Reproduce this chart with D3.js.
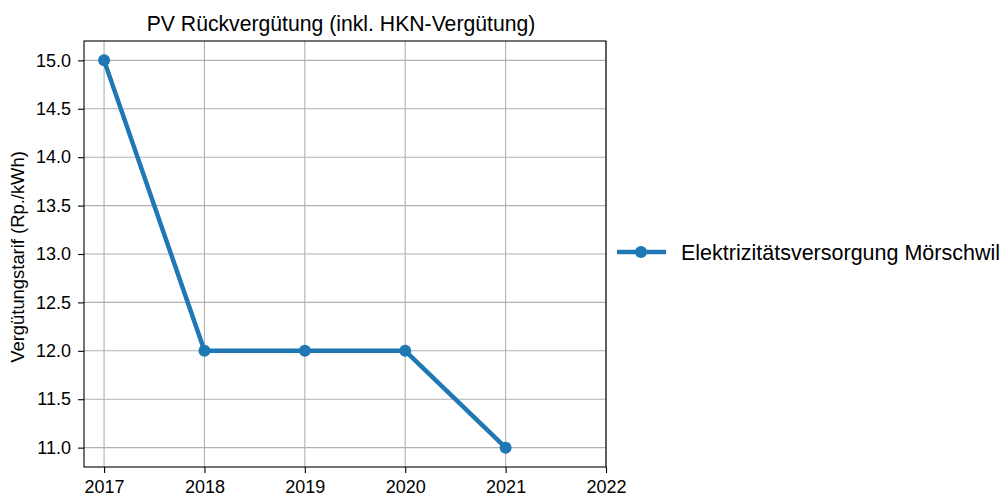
<!DOCTYPE html>
<html>
<head>
<meta charset="utf-8">
<script src="https://cdn.jsdelivr.net/npm/d3@7"></script>
<style>
  body { margin: 0; background: #fff; }
  text { font-family: "Liberation Sans", Arial, sans-serif; fill: #000; }
</style>
</head>
<body>
<svg width="1006" height="496"></svg>
<script>
// data
var years = [2017, 2018, 2019, 2020, 2021];
var tariff = [15.0, 12.0, 12.0, 12.0, 11.0];
var xTicks = [2017, 2018, 2019, 2020, 2021, 2022];
var yTicks = [11.0, 11.5, 12.0, 12.5, 13.0, 13.5, 14.0, 14.5, 15.0];
var seriesName = "Elektrizitätsversorgung Mörschwil";

var margin = { left: 84, right: 400, top: 41, bottom: 29 };
var svg = d3.select('svg');
var W = 1006, H = 496;

var x = d3.scaleLinear().domain([2016.8, 2022]).range([margin.left, W - margin.right]);
var y = d3.scaleLinear().domain([10.8, 15.2]).range([H - margin.bottom, margin.top]);

var blue = '#1f77b4';

// grid
svg.append('g').selectAll('line.vg').data(xTicks).enter().append('line')
    .attr('x1', d => x(d)).attr('x2', d => x(d))
    .attr('y1', y.range()[0]).attr('y2', y.range()[1])
    .attr('stroke', '#b0b0b0').attr('stroke-width', 1.1);
svg.append('g').selectAll('line.hg').data(yTicks).enter().append('line')
    .attr('y1', d => y(d)).attr('y2', d => y(d))
    .attr('x1', x.range()[0]).attr('x2', x.range()[1])
    .attr('stroke', '#b0b0b0').attr('stroke-width', 1.1);

// axes
var xAxis = svg.append('g')
    .attr('transform', 'translate(0,' + y.range()[0] + ')')
    .call(d3.axisBottom(x).tickValues(xTicks).tickFormat(d3.format('d')).tickSize(6).tickPadding(7));
var yAxis = svg.append('g')
    .attr('transform', 'translate(' + x.range()[0] + ',0)')
    .call(d3.axisLeft(y).tickValues(yTicks).tickFormat(d3.format('.1f')).tickSize(6).tickPadding(7));
[xAxis, yAxis].forEach(a => {
    a.select('.domain').remove();
    a.selectAll('text').style('font-size', '18px').style('font-family', '"Liberation Sans", Arial, sans-serif').attr('fill', '#000');
    a.selectAll('line').attr('stroke', '#000').attr('stroke-width', 1.1);
});

// frame
svg.append('rect')
    .attr('x', x.range()[0]).attr('y', y.range()[1])
    .attr('width', x.range()[1] - x.range()[0]).attr('height', y.range()[0] - y.range()[1])
    .attr('fill', 'none').attr('stroke', '#000').attr('stroke-width', 1.1);

// line
var pts = years.map((d, i) => [d, tariff[i]]);
svg.append('path').datum(pts)
    .attr('fill', 'none').attr('stroke', blue).attr('stroke-width', 4.5)
    .attr('stroke-linejoin', 'round')
    .attr('d', d3.line().x(d => x(d[0])).y(d => y(d[1])));
svg.append('g').selectAll('circle').data(pts).enter().append('circle')
    .attr('cx', d => x(d[0])).attr('cy', d => y(d[1])).attr('r', 6)
    .attr('fill', blue);

// title
svg.append('text')
    .attr('x', 341).attr('y', 31)
    .attr('text-anchor', 'middle').style('font-size', '21.2px')
    .text('PV Rückvergütung (inkl. HKN-Vergütung)');

// y label
svg.append('text')
    .attr('transform', 'translate(24,257) rotate(-90)')
    .attr('text-anchor', 'middle').style('font-size', '18.4px')
    .text('Vergütungstarif (Rp./kWh)');

// legend
var ly = 252;
svg.append('line').attr('x1', 617).attr('x2', 666).attr('y1', ly).attr('y2', ly)
    .attr('stroke', blue).attr('stroke-width', 4.5);
svg.append('circle').attr('cx', 641).attr('cy', ly).attr('r', 6).attr('fill', blue);
svg.append('text').attr('x', 681).attr('y', ly + 7.7).style('font-size', '21.5px').text(seriesName);
</script>
</body>
</html>
